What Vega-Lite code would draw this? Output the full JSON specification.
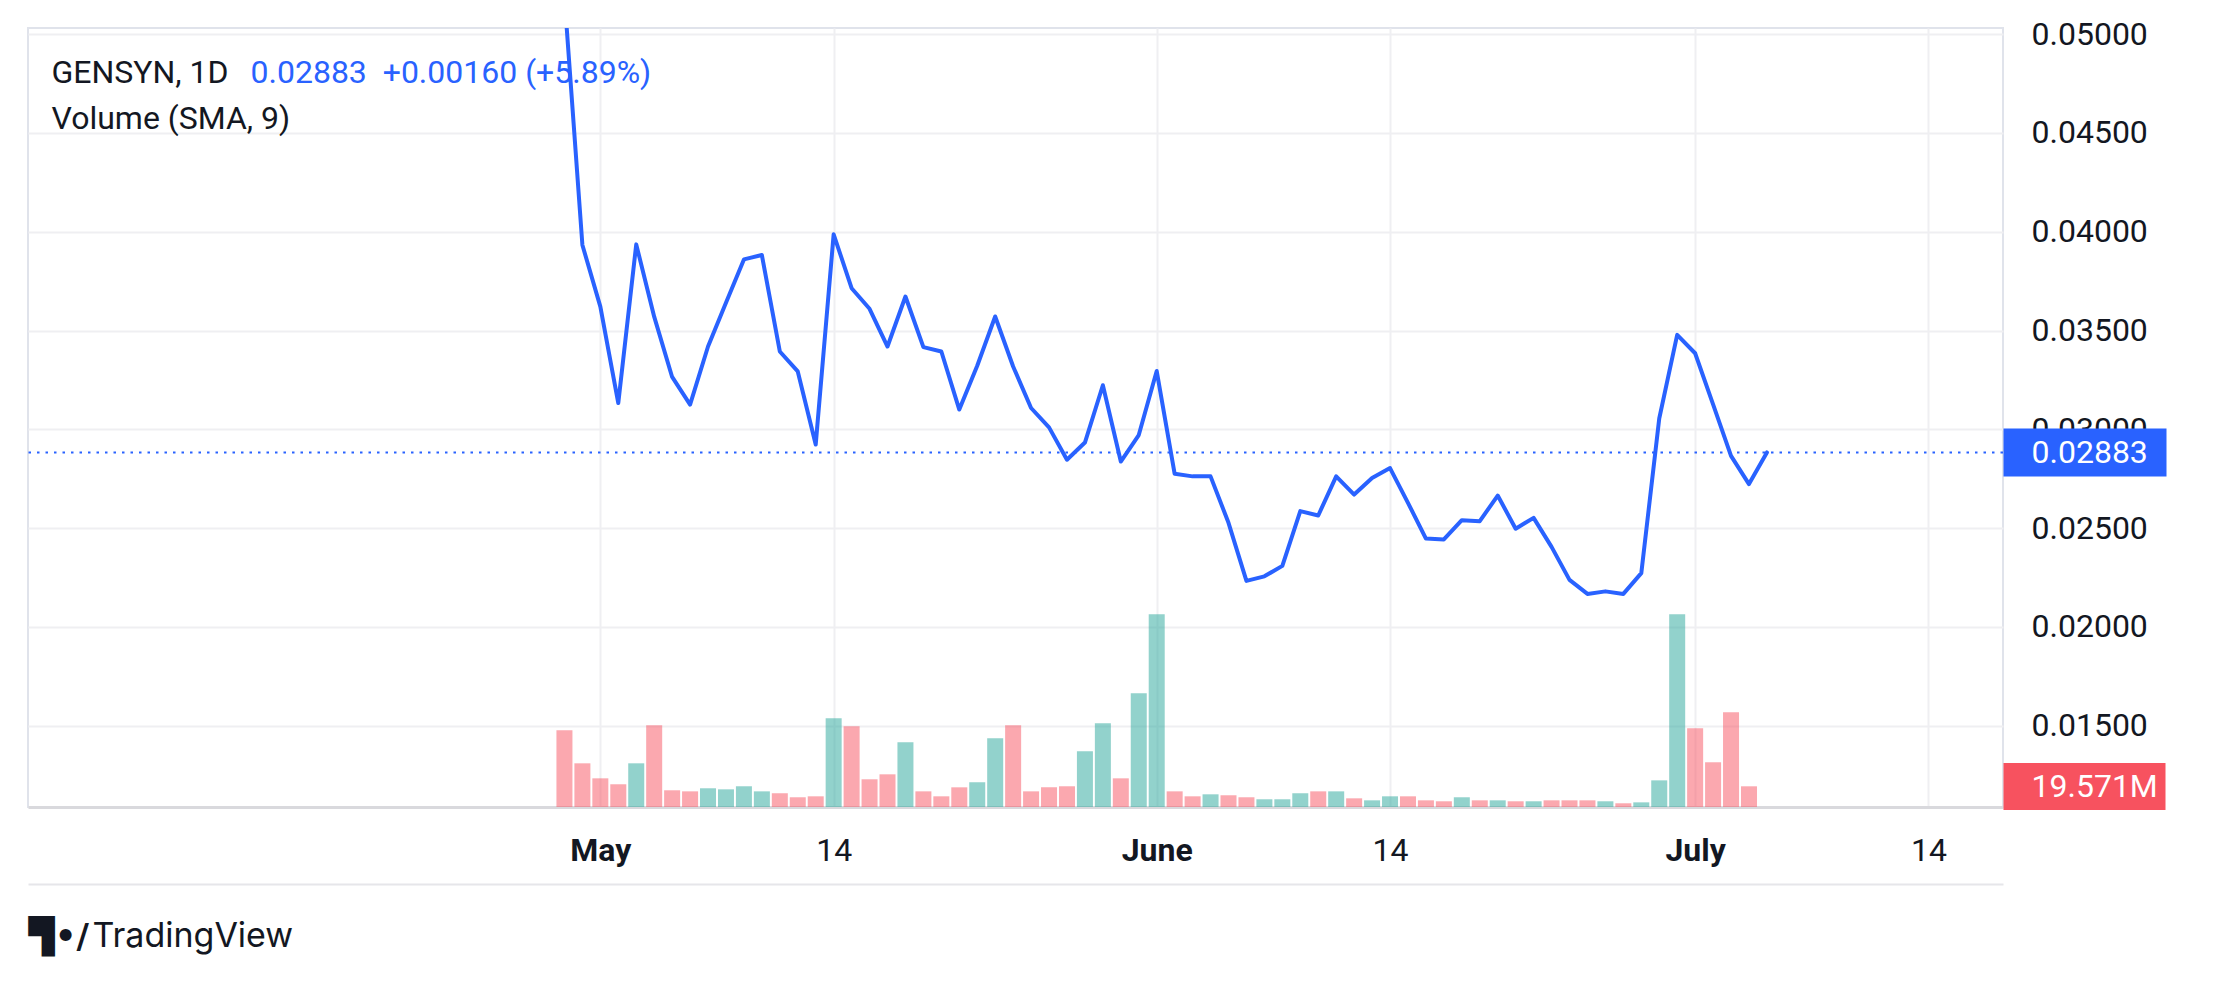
{
  "$schema": "https://vega.github.io/schema/vega-lite/v6.json",
  "description": "GENSYN 1D price line with volume bars, TradingView style.",
  "width": 1975,
  "height": 779,
  "autosize": {"type": "none"},
  "padding": {"left": 28, "top": 28, "right": 214, "bottom": 175},
  "background": "#ffffff",
  "data": {
    "values": [
      {"date": "2025-04-29", "close": 0.0519, "volume": 72.5, "dir": "down"},
      {"date": "2025-04-30", "close": 0.03933, "volume": 41.3, "dir": "down"},
      {"date": "2025-05-01", "close": 0.03621, "volume": 27.1, "dir": "down"},
      {"date": "2025-05-02", "close": 0.03133, "volume": 21.5, "dir": "down"},
      {"date": "2025-05-03", "close": 0.03936, "volume": 41.3, "dir": "up"},
      {"date": "2025-05-04", "close": 0.0357, "volume": 77.2, "dir": "down"},
      {"date": "2025-05-05", "close": 0.03265, "volume": 15.8, "dir": "down"},
      {"date": "2025-05-06", "close": 0.03125, "volume": 14.8, "dir": "down"},
      {"date": "2025-05-07", "close": 0.03419, "volume": 17.7, "dir": "up"},
      {"date": "2025-05-08", "close": 0.0364, "volume": 16.7, "dir": "up"},
      {"date": "2025-05-09", "close": 0.0386, "volume": 19.6, "dir": "up"},
      {"date": "2025-05-10", "close": 0.03882, "volume": 14.8, "dir": "up"},
      {"date": "2025-05-11", "close": 0.03394, "volume": 13.0, "dir": "down"},
      {"date": "2025-05-12", "close": 0.03293, "volume": 9.2, "dir": "down"},
      {"date": "2025-05-13", "close": 0.02923, "volume": 10.1, "dir": "down"},
      {"date": "2025-05-14", "close": 0.03987, "volume": 83.9, "dir": "up"},
      {"date": "2025-05-15", "close": 0.03714, "volume": 76.3, "dir": "down"},
      {"date": "2025-05-16", "close": 0.0361, "volume": 26.2, "dir": "down"},
      {"date": "2025-05-17", "close": 0.03419, "volume": 30.9, "dir": "down"},
      {"date": "2025-05-18", "close": 0.03672, "volume": 61.2, "dir": "up"},
      {"date": "2025-05-19", "close": 0.03416, "volume": 14.8, "dir": "down"},
      {"date": "2025-05-20", "close": 0.03394, "volume": 10.1, "dir": "down"},
      {"date": "2025-05-21", "close": 0.031, "volume": 18.6, "dir": "down"},
      {"date": "2025-05-22", "close": 0.03322, "volume": 23.4, "dir": "up"},
      {"date": "2025-05-23", "close": 0.03571, "volume": 65.0, "dir": "up"},
      {"date": "2025-05-24", "close": 0.03318, "volume": 77.2, "dir": "down"},
      {"date": "2025-05-25", "close": 0.03108, "volume": 14.8, "dir": "down"},
      {"date": "2025-05-26", "close": 0.0301, "volume": 18.6, "dir": "down"},
      {"date": "2025-05-27", "close": 0.02846, "volume": 19.6, "dir": "down"},
      {"date": "2025-05-28", "close": 0.02933, "volume": 52.7, "dir": "up"},
      {"date": "2025-05-29", "close": 0.03223, "volume": 79.1, "dir": "up"},
      {"date": "2025-05-30", "close": 0.02837, "volume": 27.1, "dir": "down"},
      {"date": "2025-05-31", "close": 0.02971, "volume": 107.5, "dir": "up"},
      {"date": "2025-06-01", "close": 0.03295, "volume": 182.2, "dir": "up"},
      {"date": "2025-06-02", "close": 0.02775, "volume": 14.8, "dir": "down"},
      {"date": "2025-06-03", "close": 0.02762, "volume": 10.1, "dir": "down"},
      {"date": "2025-06-04", "close": 0.02762, "volume": 12.0, "dir": "up"},
      {"date": "2025-06-05", "close": 0.02527, "volume": 11.1, "dir": "down"},
      {"date": "2025-06-06", "close": 0.02233, "volume": 9.2, "dir": "down"},
      {"date": "2025-06-07", "close": 0.02256, "volume": 7.3, "dir": "up"},
      {"date": "2025-06-08", "close": 0.02309, "volume": 7.3, "dir": "up"},
      {"date": "2025-06-09", "close": 0.02586, "volume": 13.0, "dir": "up"},
      {"date": "2025-06-10", "close": 0.02564, "volume": 14.8, "dir": "down"},
      {"date": "2025-06-11", "close": 0.02762, "volume": 14.8, "dir": "up"},
      {"date": "2025-06-12", "close": 0.0267, "volume": 8.2, "dir": "down"},
      {"date": "2025-06-13", "close": 0.02754, "volume": 6.3, "dir": "up"},
      {"date": "2025-06-14", "close": 0.02804, "volume": 10.1, "dir": "up"},
      {"date": "2025-06-15", "close": 0.02628, "volume": 10.1, "dir": "down"},
      {"date": "2025-06-16", "close": 0.02447, "volume": 6.3, "dir": "down"},
      {"date": "2025-06-17", "close": 0.02443, "volume": 5.4, "dir": "down"},
      {"date": "2025-06-18", "close": 0.0254, "volume": 9.2, "dir": "up"},
      {"date": "2025-06-19", "close": 0.02535, "volume": 6.3, "dir": "down"},
      {"date": "2025-06-20", "close": 0.02665, "volume": 6.3, "dir": "up"},
      {"date": "2025-06-21", "close": 0.02497, "volume": 5.4, "dir": "down"},
      {"date": "2025-06-22", "close": 0.02552, "volume": 5.4, "dir": "up"},
      {"date": "2025-06-23", "close": 0.02405, "volume": 6.3, "dir": "down"},
      {"date": "2025-06-24", "close": 0.02238, "volume": 6.3, "dir": "down"},
      {"date": "2025-06-25", "close": 0.02167, "volume": 6.3, "dir": "down"},
      {"date": "2025-06-26", "close": 0.0218, "volume": 5.4, "dir": "up"},
      {"date": "2025-06-27", "close": 0.02167, "volume": 3.5, "dir": "down"},
      {"date": "2025-06-28", "close": 0.02272, "volume": 4.4, "dir": "up"},
      {"date": "2025-06-29", "close": 0.03055, "volume": 25.2, "dir": "up"},
      {"date": "2025-06-30", "close": 0.03478, "volume": 182.2, "dir": "up"},
      {"date": "2025-07-01", "close": 0.03385, "volume": 74.4, "dir": "down"},
      {"date": "2025-07-02", "close": 0.03126, "volume": 42.3, "dir": "down"},
      {"date": "2025-07-03", "close": 0.02866, "volume": 89.5, "dir": "down"},
      {"date": "2025-07-04", "close": 0.02723, "volume": 19.571, "dir": "down"},
      {"date": "2025-07-05", "close": 0.02883}
    ]
  },
  "layer": [
    {
      "transform": [{"filter": "datum.dir == 'up'"}],
      "mark": {"type": "bar", "width": 16, "color": "#26a69a", "opacity": 0.5},
      "encoding": {
        "x": {
          "field": "date",
          "type": "temporal",
          "scale": {
            "type": "utc",
            "domain": [
              {"year": 2025, "month": 3, "date": 30, "hours": 9, "minutes": 20, "utc": true},
              {"year": 2025, "month": 7, "date": 17, "hours": 21, "utc": true}
            ]
          },
          "axis": {
            "orient": "bottom",
            "values": [
              {"year": 2025, "month": 5, "date": 1, "utc": true},
              {"year": 2025, "month": 5, "date": 14, "utc": true},
              {"year": 2025, "month": 6, "date": 1, "utc": true},
              {"year": 2025, "month": 6, "date": 14, "utc": true},
              {"year": 2025, "month": 7, "date": 1, "utc": true},
              {"year": 2025, "month": 7, "date": 14, "utc": true}
            ],
            "labelExpr": "utcdate(datum.value) == 1 ? utcFormat(datum.value, '%B') : utcFormat(datum.value, '%d')",
            "labelFontWeight": {"condition": {"test": "utcdate(datum.value) == 1", "value": "bold"}, "value": "normal"},
            "labelFont": "Roboto",
            "labelFontSize": 32,
            "labelColor": "#131722",
            "labelAngle": 0,
            "labelBaseline": "alphabetic",
            "labelPadding": 53,
            "ticks": false,
            "tickSize": 0,
            "grid": true,
            "gridColor": "#efeff2",
            "gridWidth": 2,
            "domain": true,
            "domainColor": "#d9d9dd",
            "domainWidth": 3,
            "title": null
          }
        },
        "y": {
          "field": "volume",
          "type": "quantitative",
          "scale": {"domain": [0, 736.5], "nice": false, "zero": true},
          "axis": null
        }
      }
    },
    {
      "transform": [{"filter": "datum.dir == 'down'"}],
      "mark": {"type": "bar", "width": 16, "color": "#f7525f", "opacity": 0.5},
      "encoding": {
        "x": {
          "field": "date",
          "type": "temporal",
          "axis": {
            "orient": "top",
            "labels": false,
            "ticks": false,
            "grid": false,
            "domain": false,
            "title": "GENSYN, 1D",
            "titleX": 23,
            "titleY": 54,
            "titleAlign": "left",
            "titleBaseline": "alphabetic",
            "titleFont": "Roboto",
            "titleFontSize": 32,
            "titleFontWeight": "normal",
            "titleColor": "#131722"
          }
        },
        "y": {
          "field": "volume",
          "type": "quantitative",
          "scale": {"domain": [0, 736.5], "nice": false, "zero": true},
          "axis": {
            "orient": "right",
            "values": [19.571],
            "labelExpr": "'19.571M'",
            "labelFont": "Roboto",
            "labelFontSize": 32,
            "labelColor": "#ffffff",
            "labelPadding": -134,
            "ticks": true,
            "tickSize": 162,
            "tickWidth": 47,
            "tickColor": "#f7525f",
            "tickCap": "butt",
            "grid": false,
            "domain": false,
            "title": "Volume (SMA, 9)",
            "titleX": -1952,
            "titleY": 100,
            "titleAngle": 0,
            "titleAlign": "left",
            "titleBaseline": "alphabetic",
            "titleFont": "Roboto",
            "titleFontSize": 32,
            "titleFontWeight": "normal",
            "titleColor": "#131722"
          }
        }
      }
    },
    {
      "mark": {"type": "line", "color": "#2962ff", "strokeWidth": 4, "strokeJoin": "round", "strokeCap": "round", "clip": true},
      "encoding": {
        "x": {
          "field": "date",
          "type": "temporal",
          "axis": {
            "orient": "bottom",
            "offset": 77,
            "labels": false,
            "ticks": false,
            "grid": false,
            "domain": true,
            "domainColor": "#e6e6ea",
            "domainWidth": 2,
            "title": "0.02883\u00a0\u00a0+0.00160 (+5.89%)",
            "titleX": 222,
            "titleY": -802,
            "titleAlign": "left",
            "titleBaseline": "alphabetic",
            "titleFont": "Roboto",
            "titleFontSize": 32,
            "titleFontWeight": "normal",
            "titleColor": "#2962ff"
          }
        },
        "y": {
          "field": "close",
          "type": "quantitative",
          "scale": {"domain": [0.010887, 0.05031], "nice": false, "zero": false},
          "axis": {
            "orient": "right",
            "values": [0.015, 0.02, 0.025, 0.03, 0.035, 0.04, 0.045, 0.05],
            "format": ".5f",
            "labelFont": "Roboto",
            "labelFontSize": 32,
            "labelColor": "#131722",
            "labelPadding": 28,
            "ticks": false,
            "tickSize": 0,
            "grid": true,
            "gridColor": "#efeff2",
            "gridWidth": 2,
            "domain": false,
            "title": "\u259c\u2022/",
            "titleX": -1975,
            "titleY": 919,
            "titleAngle": 0,
            "titleAlign": "left",
            "titleBaseline": "alphabetic",
            "titleFont": "DejaVu Sans",
            "titleFontSize": 34,
            "titleFontWeight": "bold",
            "titleColor": "#131722"
          }
        }
      }
    },
    {
      "data": {"values": [{"last": 0.02883}]},
      "mark": {"type": "rule", "color": "#2962ff", "strokeWidth": 2, "strokeDash": [2.5, 6]},
      "encoding": {
        "y": {
          "field": "last",
          "type": "quantitative",
          "scale": {"domain": [0.010887, 0.05031], "nice": false, "zero": false},
          "axis": {
            "orient": "right",
            "values": [0.02883],
            "format": ".5f",
            "labelFont": "Roboto",
            "labelFontSize": 32,
            "labelColor": "#ffffff",
            "labelPadding": -135,
            "ticks": true,
            "tickSize": 163,
            "tickWidth": 48,
            "tickColor": "#2962ff",
            "tickCap": "butt",
            "grid": false,
            "domain": false,
            "title": "TradingView",
            "titleX": -1911,
            "titleY": 918,
            "titleAngle": 0,
            "titleAlign": "left",
            "titleBaseline": "alphabetic",
            "titleFont": "Inter",
            "titleFontSize": 34,
            "titleFontWeight": "normal",
            "titleColor": "#131722"
          }
        }
      }
    }
  ],
  "resolve": {
    "scale": {"y": "independent"},
    "axis": {"x": "independent", "y": "independent"}
  },
  "config": {
    "font": "Roboto",
    "view": {"stroke": "#e0e3eb", "strokeWidth": 2}
  }
}
